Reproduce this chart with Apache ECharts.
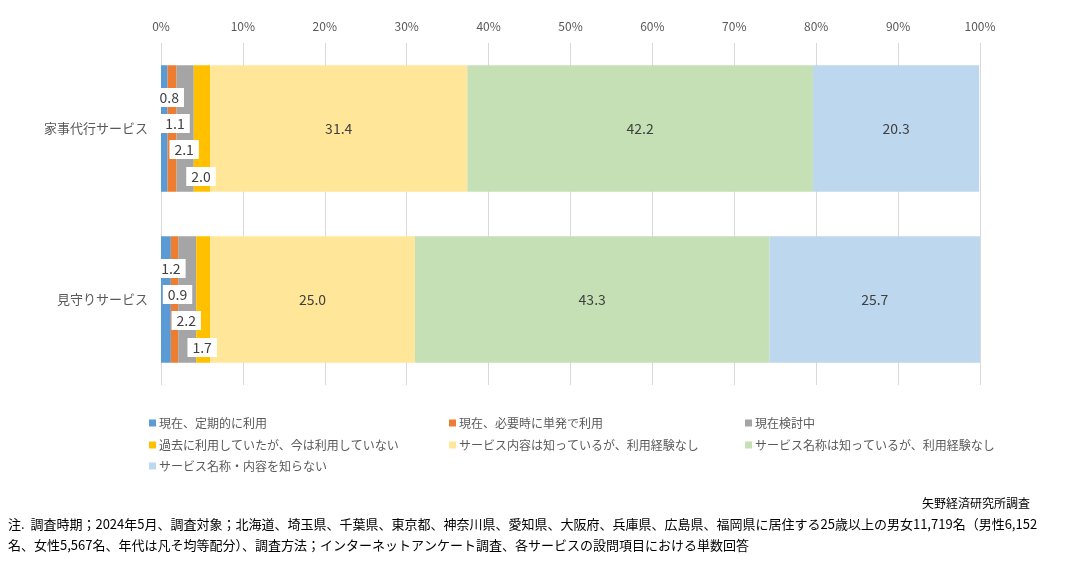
<!DOCTYPE html>
<html>
<head>
<meta charset="utf-8">
<script src="https://cdn.jsdelivr.net/npm/echarts@6/dist/echarts.min.js"></script>
<style>
html,body{margin:0;padding:0;background:#fff;}
#c{width:1066px;height:574px;}
</style>
</head>
<body>
<div id="c"></div>
<script>
const categories = ['家事代行サービス', '見守りサービス'];
const seriesNames = [
  '現在、定期的に利用',
  '現在、必要時に単発で利用',
  '現在検討中',
  '過去に利用していたが、今は利用していない',
  'サービス内容は知っているが、利用経験なし',
  'サービス名称は知っているが、利用経験なし',
  'サービス名称・内容を知らない'
];
const regularUse = [0.8, 1.2];
const singleUse = [1.1, 0.9];
const considering = [2.1, 2.2];
const pastUse = [2.0, 1.7];
const knowContent = [31.4, 25.0];
const knowName = [42.2, 43.3];
const unknown = [20.3, 25.7];
const xTicks = [0, 10, 20, 30, 40, 50, 60, 70, 80, 90, 100];
const noteSource = '矢野経済研究所調査';
const noteLine1 = '注.  調査時期；2024年5月、調査対象；北海道、埼玉県、千葉県、東京都、神奈川県、愛知県、大阪府、兵庫県、広島県、福岡県に居住する25歳以上の男女11,719名（男性6,152';
const noteLine2 = '名、女性5,567名、年代は凡そ均等配分）、調査方法；インターネットアンケート調査、各サービスの設問項目における単数回答';

const values = [regularUse, singleUse, considering, pastUse, knowContent, knowName, unknown];
const colors = ['#5B9BD5', '#ED7D31', '#A5A5A5', '#FFC000', '#FFE699', '#C5E0B4', '#BDD7EE'];
const smallOffsets = [[5, -31], [3, -5], [-1, 21], [-1, 48]];
const FONT = '"Noto Sans CJK JP", "Noto Sans", sans-serif';

const series = values.map((v, i) => {
  const small = i < 4;
  return {
    name: seriesNames[i],
    type: 'bar',
    stack: 'total',
    barCategoryGap: '26%',
    data: v,
    itemStyle: { color: colors[i] },
    label: small ? {
      show: true,
      position: 'inside',
      offset: smallOffsets[i],
      formatter: p => p.value.toFixed(1),
      backgroundColor: '#fff',
      padding: [3, 5, 2, 5],
      color: '#404040',
      fontSize: 14,
      fontFamily: FONT
    } : {
      show: true,
      position: 'inside',
      formatter: p => p.value.toFixed(1),
      color: '#404040',
      fontSize: 14,
      fontFamily: FONT
    },
    emphasis: { disabled: true }
  };
});

const legendPos = [
  [149, 417], [449, 417], [745, 417],
  [149, 439], [449, 439], [745, 439],
  [149, 460]
];
const legends = seriesNames.map((n, i) => ({
  data: [n],
  left: legendPos[i][0],
  top: legendPos[i][1],
  icon: 'rect',
  itemWidth: 7,
  itemHeight: 7,
  itemGap: 0,
  padding: 0,
  selectedMode: false,
  textStyle: { color: '#595959', fontSize: 12, fontFamily: FONT, padding: [0, 0, 0, -2] }
}));

const chart = echarts.init(document.getElementById('c'), null, { renderer: 'canvas' });
chart.setOption({
  animation: false,
  backgroundColor: '#fff',
  grid: { left: 161, right: 86, top: 43, bottom: 189, containLabel: false },
  xAxis: {
    type: 'value',
    position: 'top',
    min: xTicks[0],
    max: xTicks[xTicks.length - 1],
    interval: xTicks[1] - xTicks[0],
    axisLine: { show: false },
    axisTick: { show: false },
    axisLabel: { formatter: '{value}%', color: '#595959', fontSize: 12, fontFamily: FONT, margin: 11 },
    splitLine: { show: true, lineStyle: { color: '#D9D9D9', width: 1 } }
  },
  yAxis: {
    type: 'category',
    data: categories,
    inverse: true,
    axisLine: { show: false },
    axisTick: { show: false },
    axisLabel: { color: '#595959', fontSize: 13, fontFamily: FONT, margin: 13 }
  },
  legend: legends,
  series: series,
  graphic: [
    { type: 'text', right: 36, top: 497, style: { text: noteSource, fill: '#000', fontSize: 12, fontFamily: FONT } },
    { type: 'text', left: 8, top: 518, style: { text: noteLine1, fill: '#000', fontSize: 13, fontFamily: FONT } },
    { type: 'text', left: 8, top: 539, style: { text: noteLine2, fill: '#000', fontSize: 13, fontFamily: FONT } }
  ]
});
</script>
</body>
</html>
